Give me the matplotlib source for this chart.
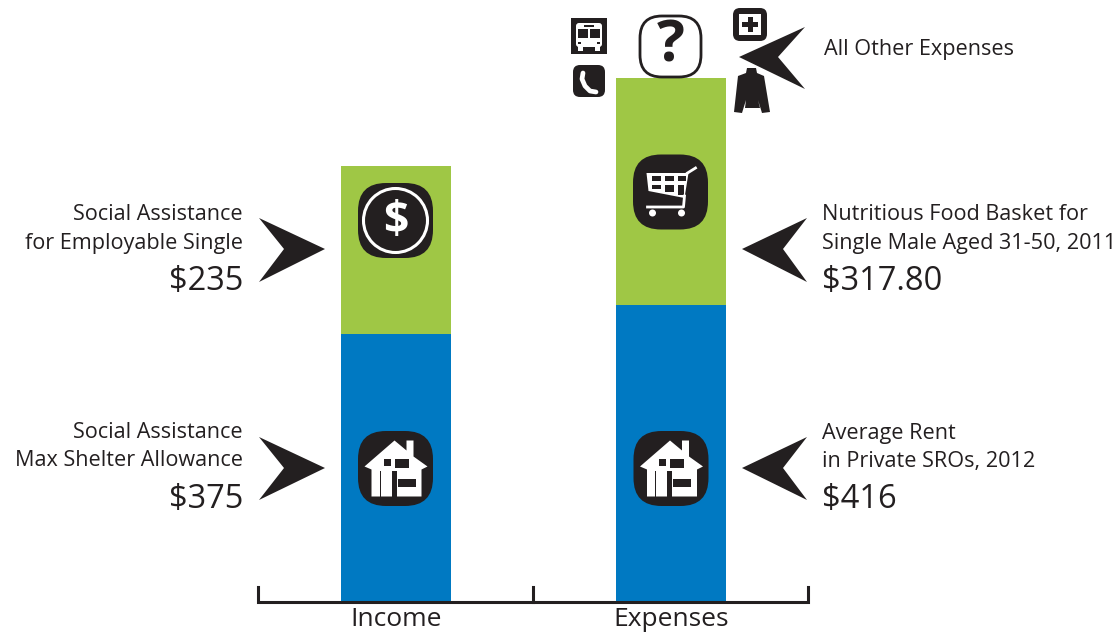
import matplotlib
matplotlib.use('Agg')
from matplotlib import pyplot as plt
from matplotlib.patches import FancyBboxPatch, Polygon, Circle, Rectangle

# chart values
groups = ['Income', 'Expenses']
shelter = [375, 416]
food = [235, 317.80]
blue = '#0079c2'
green = '#9fc745'
ink = '#231f20'

left_labels = [('Social Assistance', 'for Employable Single', '$235', 213),
               ('Social Assistance', 'Max Shelter Allowance', '$375', 431)]
right_labels = [('Nutritious Food Basket for', 'Single Male Aged 31-50, 2011', '$317.80', 213),
                ('Average Rent', 'in Private SROs, 2012', '$416', 431)]
other_label = 'All Other Expenses'

plt.rcParams['font.family'] = ['Open Sans', 'DejaVu Sans']

fig = plt.figure(figsize=(11.18, 6.33), dpi=100)

# bars: dollars on y, 0.7147 px per dollar, baseline at pixel 602
ax = fig.add_axes([0, 0, 1, 1])
ax.set_xlim(0, 1118)
ax.set_ylim(-31 / 0.7147, 602 / 0.7147)
ax.axis('off')
bar_x = [396, 671]
ax.bar(bar_x, shelter, width=110, color=blue, linewidth=0)
ax.bar(bar_x, food, bottom=shelter, width=110, color=green, linewidth=0)

# overlay in pixel coords for icons and notes
ov = fig.add_axes([0, 0, 1, 1])
ov.set_xlim(0, 1118)
ov.set_ylim(633, 0)
ov.axis('off')
ov.patch.set_alpha(0)


def arrow(tip, notch, top, bot):
    ov.add_patch(Polygon([tip, top, notch, bot], closed=True, color=ink, lw=0))


def box(x0, y0, x1, y1, r, fc=ink, ec='none', lw=0):
    ov.add_patch(FancyBboxPatch((x0 + r, y0 + r), x1 - x0 - 2 * r, y1 - y0 - 2 * r,
                                boxstyle='round,pad=%f,rounding_size=%f' % (r, r),
                                fc=fc, ec=ec, lw=lw))


def white_rect(x0, y0, x1, y1, c='white'):
    ov.add_patch(Rectangle((x0, y0), x1 - x0, y1 - y0, fc=c, ec='none'))


def house(cx, cy):
    box(cx - 37.5, cy - 37.5, cx + 37.5, cy + 37.5, 28)
    pts = [(-31, -2), (-1, -28), (11, -18), (11, -28), (18, -28), (18, -12),
           (32, -2), (26, 1), (26, 28), (-24, 28), (-24, 1)]
    ov.add_patch(Polygon([(cx + a, cy + b) for a, b in pts], closed=True, fc='white', ec='none'))
    for a0, b0, a1, b1 in [(-12, -10, -5, -3), (-1, -10, 13, -1), (2, 10, 20, 18),
                           (-4, 2, 1, 28), (-16, 2, -15, 28)]:
        white_rect(cx + a0, cy + b0, cx + a1, cy + b1, ink)


def cart(cx, cy):
    box(cx - 37.5, cy - 37.5, cx + 37.5, cy + 37.5, 28)
    basket = [(-24, -19), (18, -19), (14, 6), (-22, -1)]
    ov.add_patch(Polygon([(cx + a, cy + b) for a, b in basket], closed=True, fc='white', ec='none'))
    ov.plot([cx + 17, cx + 25], [cy - 19, cy - 24], color='white', lw=2)
    ov.plot([cx + 14, cx + 13, cx - 23], [cy + 4, cy + 15, cy + 15], color='white', lw=2)
    for a0, b0, a1, b1 in [(-19, -16, -10, -11), (-6, -16, 3, -11), (7, -16, 15, -11),
                           (-19, -7, -10, -3), (-6, -7, 3, 0), (7, -7, 13, 3)]:
        white_rect(cx + a0, cy + b0, cx + a1, cy + b1, ink)
    ov.add_patch(Circle((cx - 18, cy + 21), 3.5, fc='white', ec='none'))
    ov.add_patch(Circle((cx + 11, cy + 21), 3.5, fc='white', ec='none'))


# bracket under the bars
ov.plot([258, 258, 808, 808], [587, 602, 602, 587], color=ink, lw=2.2, solid_joinstyle='miter')
ov.plot([533, 533], [587, 602], color=ink, lw=2.2)
for x, name in zip(bar_x, groups):
    ov.text(x, 619, name, ha='center', va='center', fontsize=19, color=ink)

# notes
for line1, line2, amount, y in left_labels:
    ov.text(243, y + 2, line1, ha='right', va='center', fontsize=15.6, color=ink)
    ov.text(243, y + 30, line2, ha='right', va='center', fontsize=15.6, color=ink)
    ov.text(243, y + 69, amount, ha='right', va='center', fontsize=23.5, color=ink)
for line1, line2, amount, y in right_labels:
    ov.text(822, y + 2, line1, ha='left', va='center', fontsize=15.6, color=ink)
    ov.text(822, y + 30, line2, ha='left', va='center', fontsize=15.6, color=ink)
    ov.text(822, y + 69, amount, ha='left', va='center', fontsize=23.5, color=ink)
ov.text(824, 50, other_label, ha='left', va='center', fontsize=15.6, color=ink)

# arrows
arrow((325, 249), (284, 249), (259, 218), (259, 282))
arrow((325, 468), (284, 468), (259, 437), (259, 500))
arrow((742, 249), (783, 249), (807, 218), (807, 282))
arrow((742, 468), (783, 468), (807, 437), (807, 500))
arrow((739, 57), (778, 57), (805, 27), (805, 89))

# icons inside the bars
box(358, 183, 433, 258, 28)
ov.add_patch(Circle((395.5, 220.5), 32, fc='none', ec='white', lw=2.2))
ov.text(395.5, 221, '$', ha='center', va='center', fontsize=32, color='white', fontweight='bold')
house(395.5, 468.5)
house(671, 468.5)
cart(670.5, 192)

# question mark
box(640, 16, 701, 77, 22, fc='white', ec=ink, lw=2)
ov.text(670.5, 46, '?', ha='center', va='center', fontsize=42, color=ink, fontweight='bold')

# bus
white_rect(571, 18, 607, 54, ink)
box(576, 23, 602, 47, 3, fc='white')
white_rect(578, 29, 588, 38, ink)
white_rect(590, 29, 600, 38, ink)
white_rect(584, 25, 594, 27, ink)
white_rect(578, 42, 581, 44, ink)
white_rect(597, 42, 600, 44, ink)
white_rect(578, 46, 583, 51, 'white')
white_rect(595, 46, 600, 51, 'white')

# phone
box(573, 65, 605, 97, 7)
ov.plot([583, 582, 585, 590, 596], [73, 79, 86, 91, 92], color='white', lw=3.4, solid_capstyle='round')

# first aid
box(733, 8, 767, 41, 7)
white_rect(739, 14, 761, 35)
white_rect(747.5, 17, 752.5, 32, ink)
white_rect(742, 22, 758, 27, ink)

# jacket
jacket = [(747, 68), (756, 68), (757, 73), (764, 76), (770, 112), (762, 113), (758, 100),
          (760, 108), (745, 108), (746, 100), (742, 113), (734, 112), (738, 76), (746, 73)]
ov.add_patch(Polygon(jacket, closed=True, fc=ink, ec='none'))

fig.savefig('out.png', dpi=100)
